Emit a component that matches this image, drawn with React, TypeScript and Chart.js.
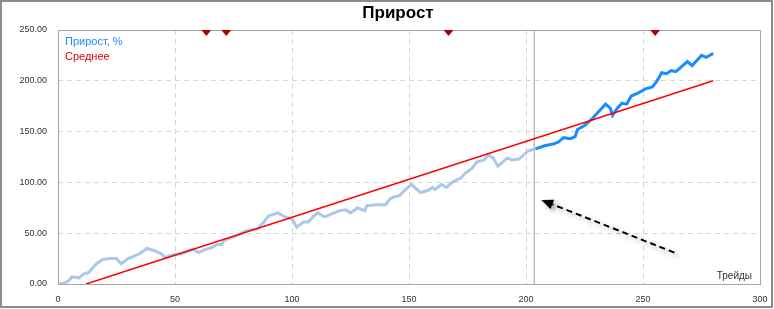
import { useEffect, useRef } from "react";
import { Chart, registerables } from "chart.js";

Chart.register(...registerables);

const titleText = "Прирост";
const growthLabel = "Прирост, %";
const meanLabel = "Среднее";
const xAxisLabel = "Трейды";

// Earlier trades (light blue)
const historyTrades = [0, 3, 5, 6, 9, 11, 13, 16, 19, 22, 25, 27, 30, 33, 35, 38, 41, 44, 46, 48, 53, 56, 58, 60, 63, 66, 68, 70, 71, 76, 80, 83, 85, 88, 90, 94, 97, 100, 102, 105, 107, 109, 111, 114, 118, 120, 123, 125, 128, 131, 132, 136, 140, 142, 144, 146, 148, 151, 153, 155, 158, 160, 161, 164, 166, 169, 172, 174, 177, 179, 182, 184, 186, 188, 192, 194, 197, 201, 204];
const historyGrowth = [0, 1, 4, 7, 6, 10, 11, 19, 24, 25, 25, 20, 25, 28, 30, 35, 33, 30, 26, 28, 30, 33, 34, 31, 34, 36, 39, 39, 43, 47, 52, 54, 54, 61, 67, 70, 66, 64, 56, 61, 61, 66, 70, 66, 70, 72, 73, 70, 75, 72, 77, 78, 78, 84, 86, 87, 92, 98, 94, 90, 92, 95, 93, 98, 95, 101, 104, 109, 114, 120, 122, 127, 124, 116, 124, 122, 123, 131, 133];

// Recent trades (bright blue)
const recentTrades = [204, 208, 212, 214, 216, 219, 221, 222, 225, 228, 230, 232, 234, 236, 237, 239, 241, 243, 245, 248, 251, 254, 256, 258, 260, 262, 264, 266, 269, 271, 273, 275, 277, 280];
const recentGrowth = [133, 136, 138, 140, 144, 143, 145, 152, 156, 162, 167, 172, 177, 173, 166, 173, 178, 177, 185, 188, 192, 194, 200, 208, 207, 210, 209, 213, 219, 215, 220, 225, 223, 227];

// Mean line
const meanTrades = [12, 280];
const meanGrowth = [0, 200];

// Split marker (vertical line)
const splitTrade = 203.5;

// Top markers
const markerTrades = [63.4, 71.9, 166.9, 255.2];

// Arrow annotation (trade, growth)
const arrowFrom = [263.4, 30.9];
const arrowTo = [206.5, 82.8];

const xTicks = [0, 50, 100, 150, 200, 250, 300];
const yTicks = [0, 50, 100, 150, 200, 250];

const FONT = "'Liberation Sans', 'DejaVu Sans', sans-serif";

export default function App() {
  const ref = useRef<HTMLCanvasElement | null>(null);

  useEffect(() => {
    document.body.style.margin = "0";
    const canvas = ref.current;
    if (!canvas) return;

    const decor = {
      id: "decor",
      beforeDraw(chart: any) {
        const ctx = chart.ctx;
        ctx.save();
        ctx.fillStyle = "#ffffff";
        ctx.fillRect(0, 0, chart.width, chart.height);
        ctx.strokeStyle = "#8c8c8c";
        ctx.lineWidth = 2;
        ctx.strokeRect(1, 1, chart.width - 3, chart.height - 3);
        ctx.restore();
      },
      beforeDatasetsDraw(chart: any) {
        const { ctx, chartArea } = chart;
        ctx.save();
        ctx.strokeStyle = "#a6a6a6";
        ctx.lineWidth = 1;
        ctx.strokeRect(
          Math.round(chartArea.left) + 0.5,
          Math.round(chartArea.top) + 0.5,
          Math.round(chartArea.right - chartArea.left),
          Math.round(chartArea.bottom - chartArea.top)
        );
        ctx.restore();
      },
      afterDraw(chart: any) {
        const { ctx, chartArea, scales } = chart;
        const xs = scales.x;
        const ys = scales.y;
        ctx.save();
        // markers at top
        ctx.fillStyle = "#b00000";
        markerTrades.forEach((t) => {
          const px = xs.getPixelForValue(t);
          const top = chartArea.top;
          ctx.beginPath();
          ctx.moveTo(px - 5, top);
          ctx.lineTo(px + 5, top);
          ctx.lineTo(px, top + 6);
          ctx.closePath();
          ctx.fill();
        });
        // legend texts
        ctx.textAlign = "left";
        ctx.textBaseline = "middle";
        ctx.font = `11px ${FONT}`;
        ctx.fillStyle = "#1a8cff";
        ctx.fillText(growthLabel, chartArea.left + 7, chartArea.top + 12);
        ctx.fillStyle = "#e00000";
        ctx.fillText(meanLabel, chartArea.left + 7, chartArea.top + 27);
        // axis label
        ctx.textAlign = "right";
        ctx.font = `10px ${FONT}`;
        ctx.fillStyle = "#333333";
        ctx.fillText(xAxisLabel, chartArea.right - 8, chartArea.bottom - 8);
        // title
        ctx.textAlign = "center";
        ctx.font = `bold 17px ${FONT}`;
        ctx.fillStyle = "#000000";
        ctx.fillText(titleText, 398, 13);
        // arrow
        const x1 = xs.getPixelForValue(arrowFrom[0]);
        const y1 = ys.getPixelForValue(arrowFrom[1]);
        const x2 = xs.getPixelForValue(arrowTo[0]);
        const y2 = ys.getPixelForValue(arrowTo[1]);
        const ang = Math.atan2(y2 - y1, x2 - x1);
        const headLen = 12;
        const headW = 5;
        const bx = x2 - Math.cos(ang) * headLen;
        const by = y2 - Math.sin(ang) * headLen;
        ctx.shadowColor = "rgba(0,0,0,0.35)";
        ctx.shadowBlur = 5;
        ctx.shadowOffsetX = 3;
        ctx.shadowOffsetY = 3;
        ctx.strokeStyle = "#000000";
        ctx.lineWidth = 2;
        ctx.setLineDash([6, 4]);
        ctx.beginPath();
        ctx.moveTo(x1, y1);
        ctx.lineTo(bx, by);
        ctx.stroke();
        ctx.setLineDash([]);
        ctx.fillStyle = "#000000";
        ctx.beginPath();
        ctx.moveTo(x2, y2);
        ctx.lineTo(bx + Math.sin(ang) * headW, by - Math.cos(ang) * headW);
        ctx.lineTo(bx - Math.sin(ang) * headW, by + Math.cos(ang) * headW);
        ctx.closePath();
        ctx.fill();
        ctx.restore();
      },
    };

    const toPts = (xs: number[], ys: number[]) => xs.map((x, i) => ({ x, y: ys[i] }));

    const chart = new Chart(canvas, {
      type: "line",
      data: {
        datasets: [
          {
            label: meanLabel,
            data: toPts(meanTrades, meanGrowth),
            borderColor: "#ff0000",
            borderWidth: 1.5,
            pointRadius: 0,
            tension: 0,
          },
          {
            label: growthLabel,
            data: toPts(recentTrades, recentGrowth),
            borderColor: "#1a8cff",
            borderWidth: 3,
            pointRadius: 0,
            tension: 0,
          },
          {
            label: growthLabel + " (history)",
            data: toPts(historyTrades, historyGrowth),
            borderColor: "#aac8e8",
            borderWidth: 3,
            pointRadius: 0,
            tension: 0,
          },
          {
            label: "split",
            data: [
              { x: splitTrade, y: yTicks[0] },
              { x: splitTrade, y: yTicks[yTicks.length - 1] },
            ],
            borderColor: "#a0a0a0",
            borderWidth: 1,
            pointRadius: 0,
          },
        ],
      },
      options: {
        animation: false,
        responsive: false,
        events: [],
        layout: { padding: { left: 0, right: 14, top: 30, bottom: 0 } },
        plugins: {
          legend: { display: false },
          title: { display: false },
          tooltip: { enabled: false },
        },
        scales: {
          x: {
            type: "linear",
            min: xTicks[0],
            max: xTicks[xTicks.length - 1],
            afterBuildTicks: (s: any) => {
              s.ticks = xTicks.map((v) => ({ value: v }));
            },
            afterFit: (s: any) => {
              s.height = 25;
              s.paddingRight = 0;
              s.paddingLeft = 0;
            },
            ticks: {
              autoSkip: false,
              maxRotation: 0,
              padding: 10,
              color: "#333333",
              font: { family: FONT, size: 9 },
            },
            grid: {
              drawTicks: false,
              color: (c: any) =>
                c.tick && (c.tick.value === xTicks[0] || c.tick.value === xTicks[xTicks.length - 1])
                  ? "rgba(0,0,0,0)"
                  : "#d6d6d6",
            },
            border: { display: false, dash: [5, 4] },
          },
          y: {
            type: "linear",
            min: yTicks[0],
            max: yTicks[yTicks.length - 1],
            afterBuildTicks: (s: any) => {
              s.ticks = yTicks.map((v) => ({ value: v }));
            },
            afterFit: (s: any) => {
              s.width = 58;
              s.paddingTop = 0;
              s.paddingBottom = 0;
            },
            ticks: {
              padding: 11,
              color: "#333333",
              font: { family: FONT, size: 9 },
              callback: (v: any) => Number(v).toFixed(2),
            },
            grid: {
              drawTicks: false,
              color: (c: any) =>
                c.tick && (c.tick.value === yTicks[0] || c.tick.value === yTicks[yTicks.length - 1])
                  ? "rgba(0,0,0,0)"
                  : "#d6d6d6",
            },
            border: { display: false, dash: [5, 4] },
          },
        },
      },
      plugins: [decor],
    } as any);

    return () => chart.destroy();
  }, []);

  return (
    <div style={{ width: 774, height: 309 }}>
      <canvas ref={ref} width={774} height={309} style={{ display: "block" }} />
    </div>
  );
}
